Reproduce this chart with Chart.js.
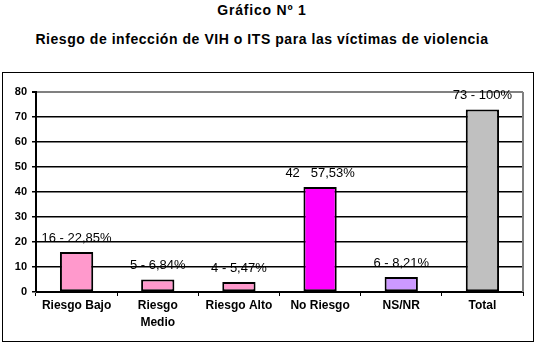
<!DOCTYPE html>
<html lang="es">
<head>
    <meta charset="UTF-8">
    <title>Gráfico Nº 1</title>
    <style>
        body {
            margin: 0;
            padding: 0;
            background: #fff;
            font-family: "Liberation Sans", Arial, sans-serif;
            width: 538px;
            height: 346px;
            position: relative;
            overflow: hidden;
        }
        .title {
            position: absolute;
            left: 0;
            width: 524px;
            text-align: center;
            font-weight: bold;
            font-size: 14px;
            color: #000;
        }
        #t1 { top: 2px; letter-spacing: 0.8px; }
        #t2 { top: 31px; letter-spacing: 0.55px; }
        #box {
            position: absolute;
            left: 2px;
            top: 72px;
            width: 530px;
            height: 268px;
            border: 1px solid #000;
        }
    </style>
</head>
<body>
    <div class="title" id="t1">Gráfico Nº 1</div>
    <div class="title" id="t2">Riesgo de infección de VIH o ITS para las víctimas de violencia</div>
    <div id="box"><canvas id="chart" width="530" height="268"></canvas></div>
    <script src="https://cdn.jsdelivr.net/npm/chart.js@4/dist/chart.umd.min.js"></script>
    <script>
        // datos
        const categories = ['Riesgo Bajo', ['Riesgo', 'Medio'], 'Riesgo Alto', 'No Riesgo', 'NS/NR', 'Total'];
        const values = [16, 5, 4, 42, 6, 73];
        const valueLabels = ['16 - 22,85%', '5 - 6,84%', '4 - 5,47%', '42   57,53%', '6 - 8,21%', '73 - 100%'];
        const barColors = ['#FF99CC', '#FF99CC', '#FF99CC', '#FF00FF', '#CC99FF', '#C0C0C0'];
        const yTicks = [0, 10, 20, 30, 40, 50, 60, 70, 80];

        const fontFamily = '"Liberation Sans", Arial, sans-serif';

        const barLabels = {
            id: 'barLabels',
            afterDatasetsDraw(chart) {
                const ctx = chart.ctx;
                const meta = chart.getDatasetMeta(0);
                ctx.save();
                ctx.font = '13px ' + fontFamily;
                ctx.fillStyle = '#000';
                ctx.textAlign = 'center';
                ctx.textBaseline = 'middle';
                meta.data.forEach((bar, i) => {
                    ctx.fillText(valueLabels[i], bar.x, bar.y - 14);
                });
                ctx.restore();
            }
        };

        // borde gris a la derecha del area del grafico
        const plotBorder = {
            id: 'plotBorder',
            beforeDatasetsDraw(chart) {
                const a = chart.chartArea;
                const ctx = chart.ctx;
                ctx.save();
                ctx.strokeStyle = '#808080';
                ctx.lineWidth = 2;
                ctx.beginPath();
                ctx.moveTo(a.right, a.top);
                ctx.lineTo(a.right, a.bottom);
                ctx.stroke();
                ctx.restore();
            }
        };

        new Chart(document.getElementById('chart'), {
            type: 'bar',
            data: {
                labels: categories,
                datasets: [{
                    data: values,
                    backgroundColor: barColors,
                    borderColor: '#000',
                    borderWidth: 2,
                    borderSkipped: false,
                    categoryPercentage: 1,
                    barPercentage: 0.41
                }]
            },
            options: {
                responsive: false,
                animation: false,
                events: [],
                layout: { padding: { top: 19, right: 10, left: 0, bottom: 0 } },
                plugins: {
                    legend: { display: false },
                    tooltip: { enabled: false },
                    title: { display: false }
                },
                scales: {
                    x: {
                        afterFit(scale) { scale.height = 49; },
                        border: { color: '#000', width: 1 },
                        grid: {
                            offset: true,
                            drawOnChartArea: false,
                            tickLength: 4,
                            color: '#000'
                        },
                        ticks: {
                            color: '#000',
                            padding: 1,
                            maxRotation: 0,
                            autoSkip: false,
                            font: { family: fontFamily, size: 12, weight: 'bold', lineHeight: 1.42 }
                        }
                    },
                    y: {
                        min: 0,
                        max: 80,
                        afterFit(scale) { scale.width = 33; },
                        afterBuildTicks(scale) {
                            scale.ticks = yTicks.map(v => ({ value: v }));
                        },
                        border: { color: '#000', width: 2 },
                        grid: {
                            color: c => c.tick.value === 80 ? '#808080' : '#000000',
                            lineWidth: c => c.tick.value === 80 ? 2 : 1.5,
                            tickColor: '#000000',
                            tickLength: 4
                        },
                        ticks: {
                            color: '#000',
                            padding: 5,
                            font: { family: fontFamily, size: 11, weight: 'bold' }
                        }
                    }
                }
            },
            plugins: [barLabels, plotBorder]
        });
    </script>
</body>
</html>
